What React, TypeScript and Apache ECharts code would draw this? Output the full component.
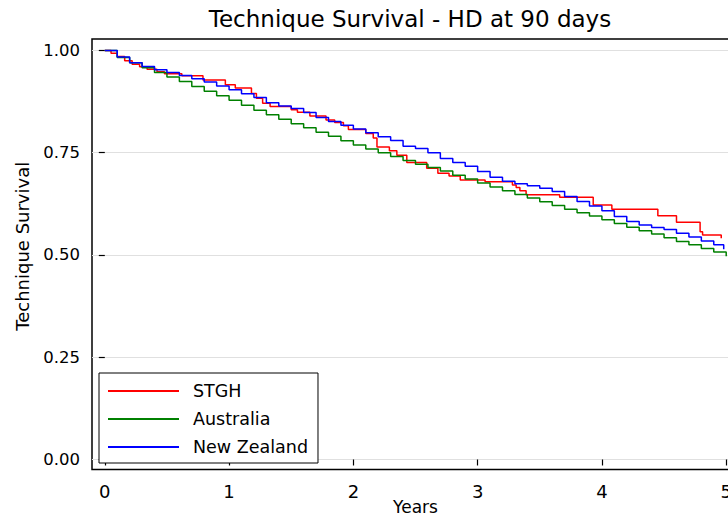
import React, { useEffect, useRef } from "react";
import * as echarts from "echarts";

// ---- data ----
const xTicks = [0, 1, 2, 3, 4, 5];
const yTicks = [0, 0.25, 0.5, 0.75, 1];

const stghTimes = [0, 0.05, 0.1, 0.16, 0.22, 0.28, 0.34, 0.42, 0.48, 0.62, 0.79, 0.97, 1.05, 1.18, 1.22, 1.27, 1.33, 1.5, 1.55, 1.65, 1.78, 1.85, 1.92, 1.96, 2.1, 2.16, 2.19, 2.29, 2.35, 2.43, 2.59, 2.68, 2.77, 2.86, 3.06, 3.28, 3.31, 3.34, 3.39, 3.66, 3.93, 4.08, 4.45, 4.6, 4.79, 4.81, 4.96];
const stghSurv = [1.0, 0.993, 0.985, 0.975, 0.966, 0.96, 0.954, 0.948, 0.943, 0.938, 0.928, 0.916, 0.908, 0.895, 0.883, 0.871, 0.863, 0.855, 0.849, 0.84, 0.83, 0.824, 0.816, 0.807, 0.797, 0.786, 0.764, 0.755, 0.744, 0.726, 0.712, 0.7, 0.693, 0.683, 0.679, 0.671, 0.665, 0.657, 0.647, 0.641, 0.622, 0.612, 0.596, 0.58, 0.557, 0.549, 0.541];

const ausTimes = [0, 0.1, 0.2, 0.3, 0.4, 0.5, 0.6, 0.7, 0.8, 0.9, 1.0, 1.1, 1.2, 1.3, 1.4, 1.5, 1.6, 1.7, 1.8, 1.9, 2.0, 2.1, 2.2, 2.3, 2.4, 2.5, 2.6, 2.7, 2.8, 2.9, 3.0, 3.1, 3.2, 3.3, 3.4, 3.5, 3.6, 3.7, 3.8, 3.9, 4.0, 4.1, 4.2, 4.3, 4.4, 4.5, 4.6, 4.7, 4.8, 4.9, 5.0];
const ausSurv = [1.0, 0.983, 0.97, 0.958, 0.946, 0.935, 0.924, 0.912, 0.9, 0.889, 0.878, 0.866, 0.854, 0.843, 0.832, 0.821, 0.811, 0.8, 0.79, 0.779, 0.769, 0.759, 0.75, 0.741, 0.731, 0.722, 0.714, 0.705, 0.695, 0.686, 0.676, 0.666, 0.657, 0.648, 0.639, 0.63, 0.621, 0.612, 0.603, 0.595, 0.586, 0.577, 0.568, 0.559, 0.551, 0.542, 0.533, 0.525, 0.516, 0.507, 0.497];

const nzTimes = [0, 0.1, 0.2, 0.3, 0.4, 0.5, 0.6, 0.7, 0.8, 0.9, 1.0, 1.1, 1.2, 1.3, 1.4, 1.5, 1.6, 1.7, 1.8, 1.9, 2.0, 2.1, 2.2, 2.3, 2.4, 2.5, 2.6, 2.7, 2.8, 2.9, 3.0, 3.1, 3.2, 3.3, 3.4, 3.5, 3.6, 3.7, 3.8, 3.9, 4.0, 4.1, 4.2, 4.3, 4.4, 4.5, 4.6, 4.7, 4.8, 4.9, 4.98];
const nzSurv = [1.0, 0.984, 0.97, 0.961, 0.953, 0.946, 0.939, 0.931, 0.923, 0.913, 0.904, 0.894, 0.885, 0.872, 0.864, 0.858, 0.848, 0.836, 0.826, 0.817, 0.808, 0.799, 0.789, 0.78, 0.766, 0.76, 0.75, 0.736, 0.726, 0.717, 0.704, 0.69, 0.68, 0.674, 0.669, 0.663, 0.655, 0.643, 0.631, 0.62, 0.608, 0.594, 0.582, 0.573, 0.567, 0.562, 0.553, 0.544, 0.534, 0.525, 0.514];

const seriesNames = ["STGH", "Australia", "New Zealand"];
const seriesColors = ["#ff0000", "#008000", "#0000ff"];

const FONT = "DejaVu Sans";

function pairs(t: number[], s: number[]) {
  return t.map((v, i) => [v, s[i]]);
}

export default function App() {
  const ref = useRef<HTMLDivElement>(null);
  useEffect(() => {
    if (!ref.current) return;
    const chart = echarts.init(ref.current, undefined, { renderer: "svg" });
    const datasets = [pairs(stghTimes, stghSurv), pairs(ausTimes, ausSurv), pairs(nzTimes, nzSurv)];
    chart.setOption({
      animation: false,
      backgroundColor: "#ffffff",
      title: {
        text: "Technique Survival - HD at 90 days",
        left: 410,
        top: 7,
        padding: 0,
        textAlign: "center",
        textStyle: { fontFamily: FONT, fontSize: 23, fontWeight: "normal", color: "#000" },
      },
      grid: {
        left: 92,
        top: 39,
        width: 647,
        height: 430.5,
        outerBoundsMode: "none",
        containLabel: false,
        show: true,
        borderColor: "#000",
        borderWidth: 1.5,
        backgroundColor: "#fff",
      },
      legend: {
        orient: "vertical",
        left: 99,
        top: 373,
        padding: [9, 10, 7, 8],
        itemWidth: 71,
        itemHeight: 14,
        itemGap: 10,
        borderColor: "#000",
        borderWidth: 1,
        backgroundColor: "#fff",
        borderRadius: 0,
        itemStyle: { opacity: 0 },
        textStyle: { fontFamily: FONT, fontSize: 17.5, color: "#000", padding: [0, 0, 0, 9] },
        data: seriesNames,
      },
      xAxis: {
        type: "value",
        min: -0.103,
        max: 5.103,
        name: "Years",
        nameLocation: "middle",
        nameMoveOverlap: false,
        nameGap: 29,
        nameTextStyle: { fontFamily: FONT, fontSize: 17, color: "#000" },
        axisLine: { show: false },
        axisTick: { show: true, inside: false, length: 6, customValues: xTicks, lineStyle: { color: "#000", width: 1.2 } },
        axisLabel: {
          customValues: xTicks,
          margin: 13,
          fontFamily: FONT,
          fontSize: 18,
          color: "#000",
        },
        splitLine: { show: false },
      },
      yAxis: {
        type: "value",
        min: -0.0245,
        max: 1.028,
        name: "Technique Survival",
        nameLocation: "middle",
        nameGap: 61,
        nameTextStyle: { fontFamily: FONT, fontSize: 18, color: "#000", padding: [0, 0, 0, 16] },
        axisLine: { show: false },
        axisTick: { show: true, inside: false, length: 6, customValues: yTicks, lineStyle: { color: "#000", width: 1.2 } },
        axisLabel: {
          customValues: yTicks,
          margin: 12,
          fontFamily: FONT,
          fontSize: 16.5,
          color: "#000",
          formatter: (v: number) => v.toFixed(2),
        },
        splitLine: { show: true, lineStyle: { color: "#e0e0e0", width: 1 } },
      },
      series: seriesNames.map((name, i) => ({
        name,
        type: "line",
        step: "end",
        symbol: "none",
        data: datasets[i],
        color: seriesColors[i],
        lineStyle: { color: seriesColors[i], width: 1.5 },
      })),
    });
    return () => chart.dispose();
  }, []);
  return <div ref={ref} style={{ position: "fixed", left: 0, top: 0, width: 728, height: 519 }} />;
}
